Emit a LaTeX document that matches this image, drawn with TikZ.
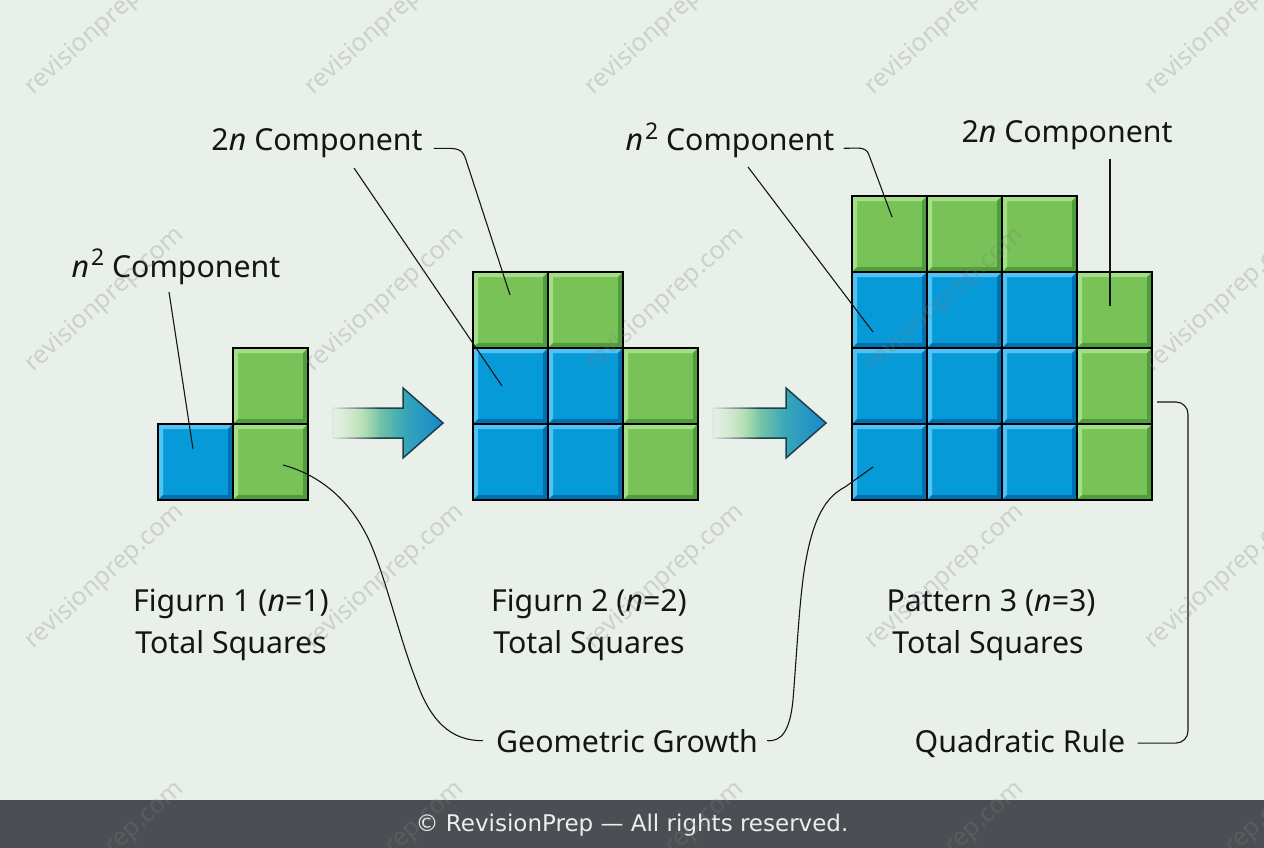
\documentclass[tikz,border=0pt]{standalone}
\usepackage{fontspec}
\setmainfont{Noto Sans}
\newfontfamily\footfont{DejaVu Sans}
\usetikzlibrary{calc,fadings}
\definecolor{bgc}{HTML}{E9F0EA}
\definecolor{footc}{HTML}{4B4E53}
\definecolor{cblue}{HTML}{079AD8}
\definecolor{cbluehi}{HTML}{52C2F2}
\definecolor{cbluelo}{HTML}{0070B0}
\definecolor{cgreen}{HTML}{78C257}
\definecolor{cgreenhi}{HTML}{A4DE86}
\definecolor{cgreenlo}{HTML}{4E9E3C}
\definecolor{agreen0}{HTML}{BCE8B4}
\definecolor{agreen}{HTML}{9ED89A}
\definecolor{ateal}{HTML}{3AA6B8}
\definecolor{ablue}{HTML}{1688CC}
\definecolor{aline}{HTML}{1C3F4A}
\definecolor{txt}{HTML}{151515}
\pgfdeclarehorizontalshading{arrowshade}{100bp}{color(0bp)=(agreen0); color(25bp)=(agreen0); color(38bp)=(agreen); color(57bp)=(ateal); color(75bp)=(ablue); color(100bp)=(ablue)}
\tikzfading[name=myfadeR, left color=transparent!0, right color=transparent!100]
\newcommand\sqtwo{\hspace{0.06em}\raisebox{0.38em}{\fontsize{23}{23}\selectfont 2}}
\tikzset{
  sqbase/.style={draw=black, line width=1.7pt, minimum width=75pt, minimum height=76pt, inner sep=0pt, outer sep=0pt},
  bevel/.style n args={3}{fill=#1, path picture={
    \fill[#2] (path picture bounding box.south west) -- (path picture bounding box.north west) -- (path picture bounding box.north east)
      -- ([shift={(-5pt,-5pt)}]path picture bounding box.north east) -- ([shift={(5pt,-5pt)}]path picture bounding box.north west)
      -- ([shift={(5pt,5pt)}]path picture bounding box.south west) -- cycle;
    \fill[#3] (path picture bounding box.south west) -- (path picture bounding box.south east) -- (path picture bounding box.north east)
      -- ([shift={(-5pt,-5pt)}]path picture bounding box.north east) -- ([shift={(-5pt,5pt)}]path picture bounding box.south east)
      -- ([shift={(5pt,5pt)}]path picture bounding box.south west) -- cycle;
  }},
  bsq/.style={sqbase, bevel={cblue}{cbluehi}{cbluelo}},
  gsq/.style={sqbase, bevel={cgreen}{cgreenhi}{cgreenlo}},
  lbl/.style={font=\fontsize{30.3}{36}\selectfont, text=txt, inner sep=0pt, anchor=base},
  conn/.style={draw=txt, line width=1.1pt},
  arrowbody/.style={shading=arrowshade, draw=aline, line width=1.5pt, line join=miter},
  wm/.style={font=\fontsize{25}{25}\selectfont, text=gray, opacity=0.28, rotate=42, inner sep=0pt},
}
\begin{document}
\begin{tikzpicture}[x=1pt,y=-1pt]
\useasboundingbox (0,0) rectangle (1264,848);
\fill[bgc] (0,0) rectangle (1264,848);

% arrows
\path[arrowbody] (333,408) -- (403,408) -- (403,388) -- (443,423) -- (403,458) -- (403,438) -- (333,438) -- cycle;
\fill[bgc, path fading=myfadeR] (330,404) rectangle (380,442);
\path[arrowbody] (713,408) -- (786,408) -- (786,388) -- (826,423) -- (786,458) -- (786,438) -- (713,438) -- cycle;
\fill[bgc, path fading=myfadeR] (710,404) rectangle (760,442);

% figure 1
\node[gsq] (p1g1) at (270.5,386) {};
\node[bsq] (p1b1) at (195.5,462) {};
\node[gsq] (p1g2) at (270.5,462) {};

% figure 2
\node[gsq] (p2g11) at (510.5,310) {};
\node[gsq] (p2g12) at (585.5,310) {};
\node[bsq] (p2b21) at (510.5,386) {};
\node[bsq] (p2b22) at (585.5,386) {};
\node[gsq] (p2g23) at (660.5,386) {};
\node[bsq] (p2b31) at (510.5,462) {};
\node[bsq] (p2b32) at (585.5,462) {};
\node[gsq] (p2g33) at (660.5,462) {};

% figure 3
\foreach \c/\x in {1/889.5,2/964.5,3/1039.5}{
  \node[gsq] (p3g1\c) at (\x,234) {};
}
\foreach \r/\y in {2/310,3/386,4/462}{
  \foreach \c/\x in {1/889.5,2/964.5,3/1039.5}{
    \node[bsq] (p3b\r\c) at (\x,\y) {};
  }
  \node[gsq] (p3g\r4) at (1114.5,\y) {};
}

% labels
\node[lbl] (L1) at (176,277) {{\itshape n}\sqtwo{} Component};
\node[lbl] (L2) at (317,151) {2{\itshape n} Component};
\node[lbl] (L3) at (730,151) {{\itshape n}\sqtwo{} Component};
\node[lbl] (L4) at (1067,143) {2{\itshape n} Component};
\node[lbl] (F1a) at (231,611) {Figurn 1 ({\itshape n}=1)};
\node[lbl] (F1b) at (231,653) {Total Squares};
\node[lbl] (F2a) at (589,611) {Figurn 2 ({\itshape n}=2)};
\node[lbl] (F2b) at (589,653) {Total Squares};
\node[lbl] (F3a) at (991,611) {Pattern 3 ({\itshape n}=3)};
\node[lbl] (F3b) at (988,653) {Total Squares};
\node[lbl] (GG) at (627,752) {Geometric Growth};
\node[lbl] (QR) at (1020,752) {Quadratic Rule};

% connectors
\draw[conn] ([shift={(-7,15)}]L1.base) -- ([shift={(-2.5,-13)}]p1b1.center);
\draw[conn] ([shift={(12.5,3)}]p1g2.center) .. controls (320,475) and (350,500) .. (369,540)
  .. controls (385,575) and (400,640) .. (416,680)
  .. controls (430,720) and (450,741) .. ([xshift=-13pt]GG.west);
\draw[conn] ([xshift=9pt]GG.east) .. controls (782,742) and (790,730) .. (793,700)
  .. controls (797,650) and (800,590) .. (806,560)
  .. controls (815,510) and (830,495) .. (845,487) -- ([shift={(-16.5,5)}]p3b41.center);
\coordinate (qrc) at (1188,402);
\draw[conn, rounded corners=12pt] ([xshift=12pt]QR.east) -- (QR.east -| qrc) -- (qrc) -- ([shift={(5,16)}]p3g34.east);
\draw[conn] ([xshift=11pt]L2.mid east) -- ++(13,0) .. controls +(12,0) and +(-3,-10) .. (466,160) -- ([shift={(-0.5,-15)}]p2g11.center);
\draw[conn] ([shift={(37,17)}]L2.base) -- ([shift={(-8.5,0)}]p2b21.center);
\draw[conn] ([xshift=9pt]L3.mid east) .. controls +(14,0) and +(-3,-9) .. (869,155) -- ([shift={(2.5,-17)}]p3g11.center);
\draw[conn] ([shift={(18,16)}]L3.base) -- ([shift={(-16.5,22)}]p3b21.center);
\draw[conn] ([shift={(43,16)}]L4.base) -- ([shift={(-4.5,-4)}]p3g24.center);

% footer
\fill[footc] (0,800) rectangle (1264,848);
\node[font=\footfont\fontsize{23}{23}\selectfont, text=white!93!black, inner sep=0pt] (foot) at (632,825) {© RevisionPrep — All rights reserved.};

% watermarks
\foreach \i/\x in {1/105,2/385,3/665,4/945,5/1225}{
  \foreach \j/\y in {1/23,2/300,3/577,4/854}{
    \node[wm] (wm\i\j) at (\x,\y) {revisionprep.com};
  }
}
\end{tikzpicture}
\end{document}
